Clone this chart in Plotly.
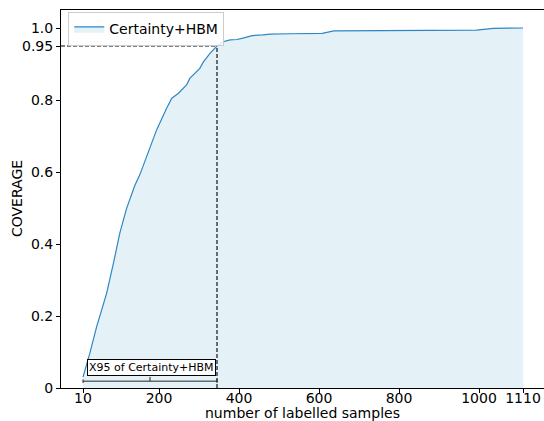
import plotly.graph_objects as go

# data
samples = [10, 27, 44, 69, 86, 102, 119, 140, 152, 173, 194, 219, 232, 248, 269, 277,
           302, 311, 328, 345, 360, 378, 395, 410, 433, 460, 478, 530, 608, 637, 700,
           800, 900, 994, 1036, 1070, 1110]
coverage = [0.03, 0.096, 0.17, 0.263, 0.346, 0.43, 0.499, 0.564, 0.592, 0.652, 0.717,
            0.777, 0.805, 0.818, 0.842, 0.86, 0.888, 0.906, 0.93, 0.95, 0.962, 0.967,
            0.968, 0.972, 0.979, 0.981, 0.983, 0.984, 0.985, 0.992, 0.992, 0.992, 0.993,
            0.994, 0.999, 0.999, 1.0]
series_name = "Certainty+HBM"
x95 = 345
target = 0.95
x_ticks = [10, 200, 400, 600, 800, 1000, 1110]
y_ticks = [0, 0.2, 0.4, 0.6, 0.8, 0.95, 1.0]
y_tick_text = ["0", "0.2", "0.4", "0.6", "0.8", "0.95", "1.0"]
x_title = "number of labelled samples"
y_title = "COVERAGE"

FONT = "DejaVu Sans"

fig = go.Figure()
fig.add_trace(go.Scatter(
    x=samples, y=coverage, mode="lines", name=series_name,
    line=dict(color="#2f86c4", width=1.2),
    fill="tozeroy", fillcolor="rgba(173,216,230,0.33)",
))

x_lo = -45
# dashed guides
fig.add_shape(type="line", x0=x_lo, x1=x95, y0=target, y1=target, xref="x", yref="y",
              line=dict(color="black", width=1.1, dash="4px,2px"))
fig.add_shape(type="line", x0=x95, x1=x95, y0=0, y1=target, xref="x", yref="y",
              line=dict(color="black", width=1.1, dash="4px,2px"))

# bracket
yb = 0.019
cap = 0.005
mid = (samples[0] + x95) / 2
fig.add_shape(type="line", x0=samples[0], x1=x95, y0=yb, y1=yb, xref="x", yref="y",
              line=dict(color="#222", width=1))
for xx in (samples[0], x95):
    fig.add_shape(type="line", x0=xx, x1=xx, y0=yb - cap, y1=yb + cap, xref="x", yref="y",
                  line=dict(color="#222", width=1))
fig.add_shape(type="line", x0=mid, x1=mid, y0=yb, y1=yb + 0.012, xref="x", yref="y",
              line=dict(color="#222", width=1))

fig.add_annotation(x=181, y=0.058, xref="x", yref="y", text="X95 of " + series_name,
                   showarrow=False, font=dict(family=FONT, size=11, color="black"),
                   bgcolor="white", bordercolor="black", borderwidth=1, borderpad=1)

# axis titles
fig.add_annotation(x=0.5, y=-0.066, xref="paper", yref="paper", text=x_title,
                   showarrow=False, xanchor="center", yanchor="middle",
                   font=dict(family=FONT, size=14, color="black"))
fig.add_annotation(x=-0.091, y=0.5, xref="paper", yref="paper", text=y_title,
                   showarrow=False, xanchor="center", yanchor="middle", textangle=-90,
                   font=dict(family=FONT, size=14, color="black"))

fig.update_layout(
    width=544, height=421,
    margin=dict(l=61, r=0, t=10, b=33, autoexpand=False),
    paper_bgcolor="white", plot_bgcolor="white",
    font=dict(family=FONT, size=14, color="black"),
    showlegend=True,
    legend=dict(x=0.015, y=0.994, xanchor="left", yanchor="top",
                bgcolor="rgba(255,255,255,0.8)", bordercolor="#cccccc", borderwidth=1,
                font=dict(family=FONT, size=14, color="black")),
    xaxis=dict(range=[x_lo, 1162.5], tickvals=x_ticks, ticktext=[str(v) for v in x_ticks],
               ticks="outside", ticklen=4, tickcolor="black", showgrid=False, zeroline=False,
               showline=True, linecolor="black", linewidth=1, mirror=True, automargin=False,
               ticklabelstandoff=-7, tickfont=dict(family=FONT, size=14)),
    yaxis=dict(range=[0, 1.05], tickvals=y_ticks, ticktext=y_tick_text,
               ticks="outside", ticklen=4, tickcolor="black", showgrid=False, zeroline=False,
               showline=True, linecolor="black", linewidth=1, mirror=False, automargin=False,
               tickfont=dict(family=FONT, size=14)),
)

fig.write_html("out.html", config={"displayModeBar": False},
               post_script="document.body.style.margin='0px';document.body.style.overflow='hidden';")
